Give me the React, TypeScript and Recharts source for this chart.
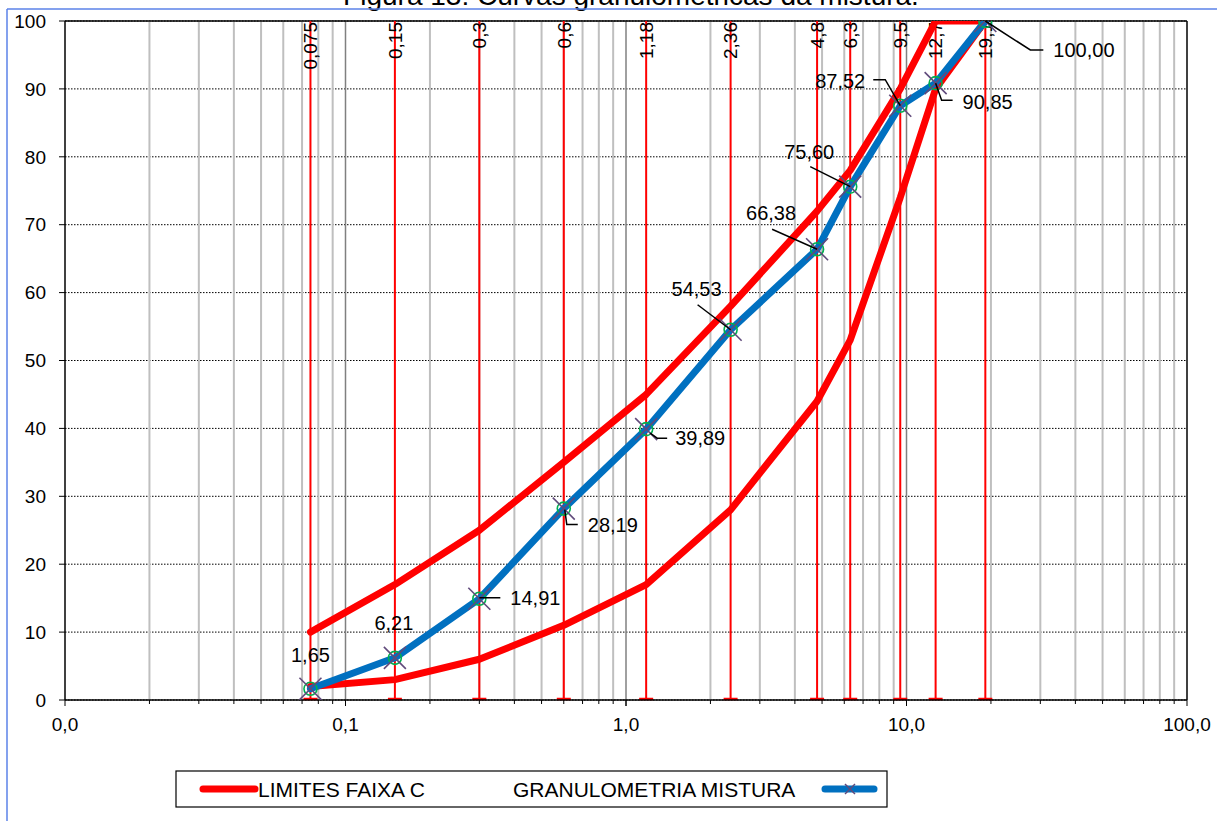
import React from 'react';
import {
  ComposedChart,
  Line,
  XAxis,
  YAxis,
  CartesianGrid,
  ReferenceLine,
  LabelList,
} from 'recharts';

// Sieve openings (mm) and their printed labels
const sieveSizes = [0.075, 0.15, 0.3, 0.6, 1.18, 2.36, 4.8, 6.3, 9.5, 12.7, 19.1];
const sieveLabels = ['0,075', '0,15', '0,3', '0,6', '1,18', '2,36', '4,8', '6,3', '9,5', '12,7', '19,1'];

// Envelope of band C (% passing)
const upperLimit = [10, 17, 25, 35, 45, 58, 72, 78, 90, 100, 100];
const lowerLimit = [2, 3, 6, 11, 17, 28, 44, 53, 74, 90, 100];

// Blend gradation (% passing)
const mixPassing = [1.65, 6.21, 14.91, 28.19, 39.89, 54.53, 66.38, 75.6, 87.52, 90.85, 100.0];

// Axis ticks
const xTicks = [0.01, 0.1, 1, 10, 100];
const xMinorTicks = [
  0.02, 0.03, 0.04, 0.05, 0.06, 0.07, 0.08, 0.09,
  0.2, 0.3, 0.4, 0.5, 0.6, 0.7, 0.8, 0.9,
  2, 3, 4, 5, 6, 7, 8, 9,
  20, 30, 40, 50, 60, 70, 80, 90,
];
const xMajorGrid = [0.1, 1, 10];
const yTicks = [0, 10, 20, 30, 40, 50, 60, 70, 80, 90, 100];

const TITLE = 'Figura 13: Curvas granulométricas da mistura.';
const LEGEND_LIMITS = 'LIMITES FAIXA C';
const LEGEND_MIX = 'GRANULOMETRIA MISTURA';

const rows = sieveSizes.map((size, i) => ({
  size,
  upper: upperLimit[i],
  lower: lowerLimit[i],
  mix: mixPassing[i],
}));

// Placement of the data labels around each blend point (text offset + leader polyline)
type LabelPlace = { dx: number; dy: number; anchor: 'start' | 'middle' | 'end'; leader: number[][] };
const mixLabelPlacement: LabelPlace[] = [
  { dx: 0, dy: -34, anchor: 'middle', leader: [] },
  { dx: -1, dy: -35, anchor: 'middle', leader: [] },
  { dx: 31, dy: -1, anchor: 'start', leader: [[0, -1], [21, -1]] },
  { dx: 24, dy: 16, anchor: 'start', leader: [[1, 1], [3, 16], [14, 16]] },
  { dx: 29, dy: 9, anchor: 'start', leader: [[4, 4], [11, 9], [21, 9]] },
  { dx: -34, dy: -41, anchor: 'middle', leader: [[-33, -25], [0, 0]] },
  { dx: -46, dy: -36, anchor: 'middle', leader: [[-45, -20], [0, 0]] },
  { dx: -41, dy: -35, anchor: 'middle', leader: [[-40, -20], [0, 0]] },
  { dx: -35, dy: -25, anchor: 'end', leader: [[-27, -26], [-15, -26], [0, 0]] },
  { dx: 27, dy: 19, anchor: 'start', leader: [[0, 0], [6, 17], [17, 17]] },
  { dx: 68, dy: 29, anchor: 'start', leader: [[0, 0], [45, 29], [58, 29]] },
];

const FONT = '"Liberation Sans", Arial, Helvetica, sans-serif';
const RED = '#FF0000';
const BLUE = '#0070C0';
const PURPLE = '#604A7B';
const GREEN = '#00B050';

const fmtX = (v: number) => v.toFixed(1).replace('.', ',');
const fmtPct = (v: number) => v.toFixed(2).replace('.', ',');

// Vertical gridline with a small tick below the x axis
const gridShape = (color: string, width: number, tickLen: number) => (p: any) => {
  const top = Math.min(p.y1, p.y2);
  const bottom = Math.max(p.y1, p.y2);
  return (
    <g>
      <line x1={p.x1} x2={p.x1} y1={top} y2={bottom} stroke={color} strokeWidth={width} />
      <line x1={p.x1} x2={p.x1} y1={bottom} y2={bottom + tickLen} stroke="#000" strokeWidth={1} />
    </g>
  );
};

// Red sieve marker: full-height line, foot cap and rotated opening label
const sieveShape = (label: string) => (p: any) => {
  const top = Math.min(p.y1, p.y2);
  const bottom = Math.max(p.y1, p.y2);
  const x = p.x1;
  return (
    <g>
      <line x1={x} x2={x} y1={top} y2={bottom} stroke={RED} strokeWidth={2} />
      <line x1={x - 7} x2={x + 7} y1={bottom - 1} y2={bottom - 1} stroke={RED} strokeWidth={2.5} />
      <text
        x={x}
        y={top + 1}
        transform={`rotate(-90 ${x} ${top + 1})`}
        textAnchor="end"
        dy="0.36em"
        fontFamily={FONT}
        fontSize={19}
        fill="#000"
      >
        {label}
      </text>
    </g>
  );
};

const MixMarker = (p: any) => {
  const { cx, cy, index } = p;
  if (cx == null || cy == null) return <g key={`mk-${index}`} />;
  const a = 11;
  return (
    <g key={`mk-${index}`}>
      <circle cx={cx} cy={cy} r={6.5} fill="none" stroke={GREEN} strokeWidth={1.6} />
      <line x1={cx - a} y1={cy - a} x2={cx + a} y2={cy + a} stroke={PURPLE} strokeWidth={1.6} />
      <line x1={cx - a} y1={cy + a} x2={cx + a} y2={cy - a} stroke={PURPLE} strokeWidth={1.6} />
    </g>
  );
};

const MixLabel = (p: any) => {
  const { x, y, value } = p;
  const idx = p.index != null ? p.index : mixPassing.indexOf(value);
  const place = mixLabelPlacement[idx];
  if (!place || x == null || y == null) return null;
  const pts = place.leader.map(([dx, dy]) => `${x + dx},${y + dy}`).join(' ');
  return (
    <g>
      {place.leader.length > 0 && (
        <polyline points={pts} fill="none" stroke="#000" strokeWidth={1.5} />
      )}
      <text
        x={x + place.dx}
        y={y + place.dy}
        dy="0.36em"
        textAnchor={place.anchor}
        fontFamily={FONT}
        fontSize={20}
        fill="#000"
      >
        {fmtPct(value)}
      </text>
    </g>
  );
};

export default function App() {
  return (
    <div style={{ position: 'absolute', left: 0, top: 0, width: 1217, height: 821, background: '#fff' }}>
      <ComposedChart
        width={1217}
        height={821}
        data={rows}
        margin={{ top: 21, right: 30, bottom: 91, left: 0 }}
        style={{ position: 'absolute', left: 0, top: 0 }}
      >
        {xMinorTicks.map((v) => (
          <ReferenceLine key={`mn-${v}`} x={v} shape={gridShape('#BFBFBF', 2, 4)} />
        ))}
        {xMajorGrid.map((v) => (
          <ReferenceLine key={`mj-${v}`} x={v} shape={gridShape('#808080', 1.5, 6)} />
        ))}
        <CartesianGrid vertical={false} stroke="#000" strokeDasharray="1.5 1.5" strokeWidth={1} />
        <XAxis
          dataKey="size"
          type="number"
          scale="log"
          domain={[0.01, 100]}
          ticks={xTicks}
          tickFormatter={fmtX}
          allowDataOverflow
          height={30}
          axisLine={{ stroke: '#000', strokeWidth: 1.5 }}
          tickLine={{ stroke: '#000', strokeWidth: 1 }}
          tickSize={6}
          tickMargin={12}
          tick={{ fill: '#000', fontSize: 19, fontFamily: FONT }}
        />
        <YAxis
          type="number"
          domain={[0, 100]}
          ticks={yTicks}
          allowDataOverflow
          width={65}
          axisLine={{ stroke: '#000', strokeWidth: 1.5 }}
          tickLine={{ stroke: '#000', strokeWidth: 1 }}
          tickSize={6}
          tickMargin={13}
          tick={{ fill: '#000', fontSize: 19, fontFamily: FONT }}
        />
        <ReferenceLine y={100} stroke="#000" strokeWidth={1.5} />
        <ReferenceLine x={100} stroke="#000" strokeWidth={1.5} />
        {sieveSizes.map((v, i) => (
          <ReferenceLine key={`sv-${v}`} x={v} shape={sieveShape(sieveLabels[i])} />
        ))}
        <Line
          dataKey="upper"
          stroke={RED}
          strokeWidth={7}
          strokeLinecap="round"
          strokeLinejoin="round"
          dot={false}
          activeDot={false}
          isAnimationActive={false}
        />
        <Line
          dataKey="lower"
          stroke={RED}
          strokeWidth={7}
          strokeLinecap="round"
          strokeLinejoin="round"
          dot={false}
          activeDot={false}
          isAnimationActive={false}
        />
        <Line
          dataKey="mix"
          stroke={BLUE}
          strokeWidth={7}
          strokeLinecap="round"
          strokeLinejoin="round"
          dot={MixMarker}
          activeDot={false}
          isAnimationActive={false}
        >
          <LabelList dataKey="mix" content={MixLabel} />
        </Line>
      </ComposedChart>

      <svg
        width={1217}
        height={821}
        style={{ position: 'absolute', left: 0, top: 0, pointerEvents: 'none' }}
      >
        <text x={631} y={5} textAnchor="middle" fontFamily={FONT} fontSize={28} fill="#000">
          {TITLE}
        </text>
        <line x1={7} x2={1217} y1={9} y2={9} stroke="#5B82E8" strokeWidth={1.5} />
        <line x1={7} x2={7} y1={9} y2={821} stroke="#5B82E8" strokeWidth={1.5} />

        <rect x={176} y={771} width={711} height={36} fill="#fff" stroke="#000" strokeWidth={1.2} />
        <line x1={203} x2={255} y1={789} y2={789} stroke={RED} strokeWidth={7} strokeLinecap="round" />
        <text x={258} y={789} dy="0.36em" fontFamily={FONT} fontSize={21} fill="#000">
          {LEGEND_LIMITS}
        </text>
        <text x={513} y={789} dy="0.36em" fontFamily={FONT} fontSize={21} fill="#000">
          {LEGEND_MIX}
        </text>
        <line x1={825} x2={874} y1={789} y2={789} stroke={BLUE} strokeWidth={7} strokeLinecap="round" />
        <line x1={845} y1={784} x2={855} y2={794} stroke={PURPLE} strokeWidth={1.5} />
        <line x1={845} y1={794} x2={855} y2={784} stroke={PURPLE} strokeWidth={1.5} />
      </svg>
    </div>
  );
}
